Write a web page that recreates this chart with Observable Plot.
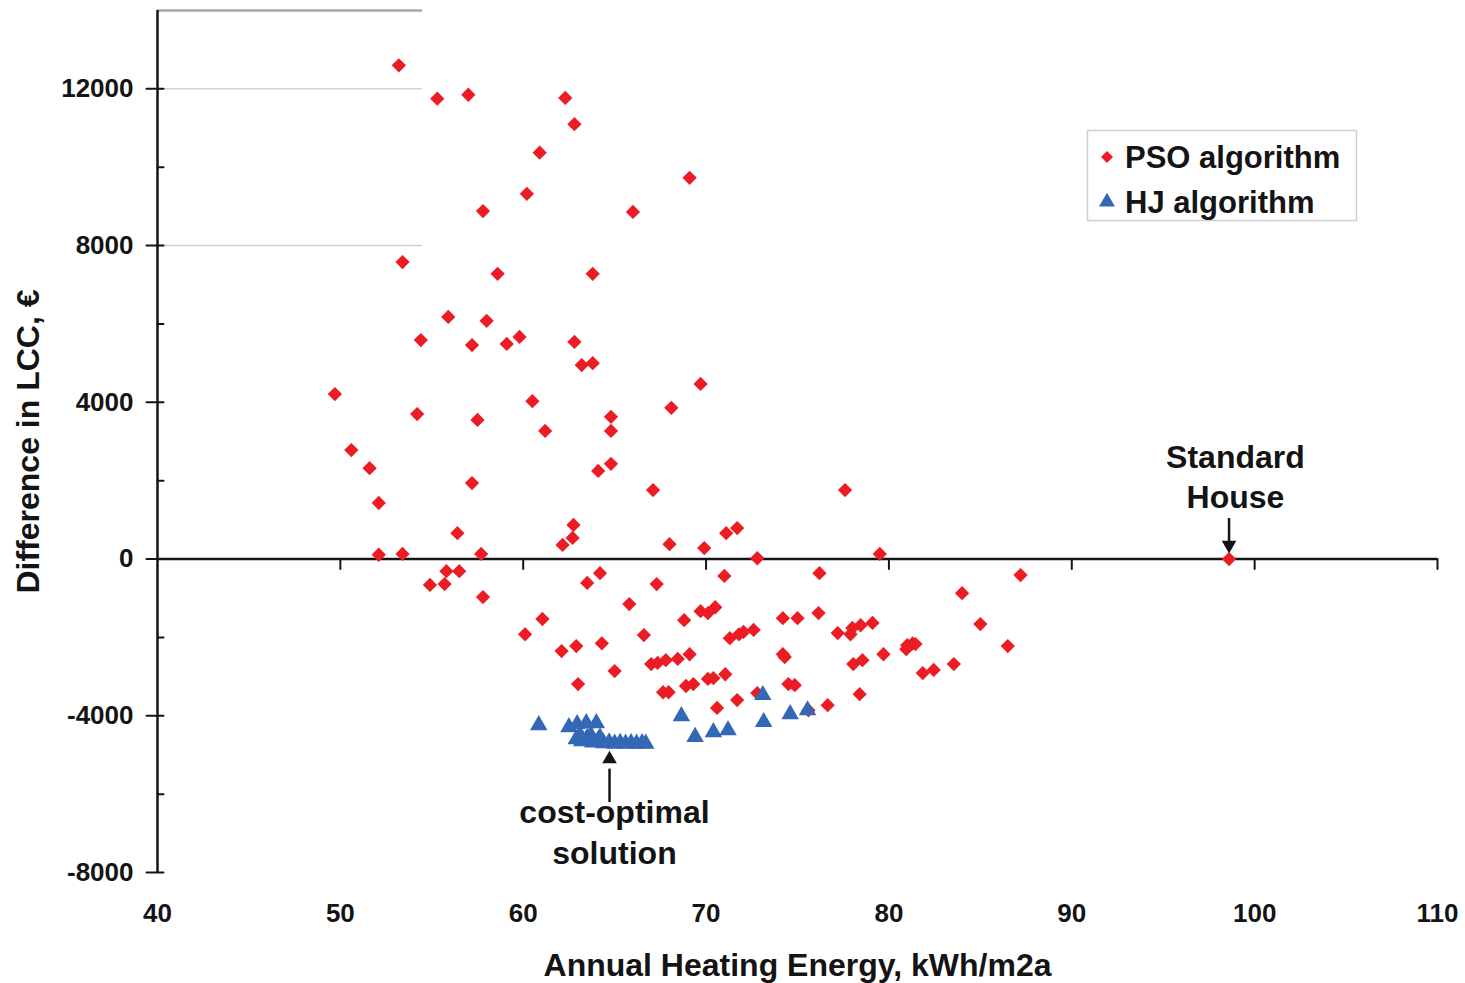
<!DOCTYPE html>
<html><head><meta charset="utf-8">
<script src="https://cdn.jsdelivr.net/npm/d3@7"></script>
<script src="https://cdn.jsdelivr.net/npm/@observablehq/plot@0.6"></script>
<style>
body{margin:0;background:#fff;}
#chart{width:1465px;height:983px;}
</style></head><body><div id="chart"></div>
<script>
// ---- data ----
const psoX = [53.2,55.3,57.0,62.3,62.8,60.9,69.1,60.2,57.8,66.0,53.4,58.6,63.8,55.9,58.0,59.8,54.4,59.1,57.2,62.8,63.2,63.8,69.7,49.7,54.2,60.5,57.5,68.1,64.8,64.8,61.2,50.6,51.6,64.8,64.1,57.2,67.1,77.6,52.1,56.4,62.75,62.7,62.15,68.0,71.1,71.7,69.9,72.8,79.5,52.1,53.4,57.7,
  55.8,56.5,54.9,55.7,57.8,64.2,63.5,71.0,67.3,76.2,87.2,84.0,65.8,60.1,61.05,66.6,69.7,70.1,70.5,68.8,74.2,75.0,76.15,85.0,62.9,64.3,62.1,71.3,71.8,72.05,72.6,77.2,77.9,78.0,78.45,79.1,81.0,81.3,81.45,80.95,86.5,74.2,74.3,65.0,69.1,67.0,67.35,67.8,68.45,78.05,78.55,79.7,81.85,82.45,83.55,63.0,67.65,67.95,68.9,69.3,70.1,70.4,71.05,72.8,74.5,74.85,78.4,70.6,71.7,76.65,75.6];
const psoY = [12600,11750,11850,11770,11100,10370,9730,9320,8880,8860,7580,7280,7280,6180,6080,5670,5590,5490,5460,5540,4950,5000,4470,4210,3700,4030,3550,3860,3630,3270,3270,2780,2320,2430,2250,1940,1760,1760,1430,660,870,540,360,380,660,790,280,20,130,110,130,130,
  -310,-310,-660,-640,-970,-360,-610,-430,-640,-360,-410,-870,-1150,-1920,-1530,-1940,-1330,-1380,-1230,-1560,-1510,-1510,-1380,-1660,-2220,-2150,-2350,-2020,-1920,-1860,-1810,-1890,-1920,-1760,-1690,-1630,-2200,-2150,-2170,-2300,-2220,-2430,-2500,-2860,-2430,-2680,-2650,-2580,-2550,-2680,-2580,-2430,-2910,-2830,-2680,-3190,-3400,-3400,-3240,-3190,-3060,-3040,-2940,-3420,-3190,-3220,-3450,-3800,-3600,-3730,-3860];
const hjX = [60.85,62.5,62.95,63.45,64.0,68.65,69.4,70.4,71.2,73.1,73.15,74.6,75.55,
  62.9,63.2,63.5,63.8,64.1,64.4,64.7,65.0,65.3,65.6,65.9,66.2,66.5,66.7,63.1,63.7,64.2];
const hjY = [-4240,-4290,-4210,-4190,-4190,-4010,-4540,-4420,-4370,-3470,-4160,-3960,-3860,
  -4600,-4650,-4560,-4680,-4620,-4700,-4680,-4710,-4690,-4710,-4700,-4710,-4700,-4710,-4480,-4500,-4550];
const houseX = [98.6];
const houseY = [0];

const xTicks = [40,50,60,70,80,90,100,110];
const yMajorTicks = [-8000,-4000,0,4000,8000,12000];
const yMinorTicks = [-6000,-2000,2000,6000,10000];
const topLine = [14000];
const gridValues = [12000, 8000];
const gridEnd = 54.5;

const labelText = ["Standard","House","cost-optimal","solution"];
const labelX = [98.95,98.95,64.99,64.99];
const labelY = [2590,1570,-6470,-7520];
const arrowX = [98.6, 64.72];
const arrowFromY = [1047, -6200];
const arrowToY = [460, -5350];
const headY = [357, -5106];
const headRot = [180, 0];

const legendLabels = ["PSO algorithm","HJ algorithm"];

// ---- tables ----
const pso = psoX.map((x,i)=>({x, y: psoY[i]}));
const hj = hjX.map((x,i)=>({x, y: hjY[i]}));
const house = houseX.map((x,i)=>({x, y: houseY[i]}));
const labels = labelText.map((t,i)=>({t, x: labelX[i], y: labelY[i]}));
const arrows = arrowX.map((x,i)=>({x, y1: arrowFromY[i], y2: arrowToY[i], hy: headY[i], rot: headRot[i]}));

const RED = "#ec1c24", BLUE = "#3467b5", INK = "#141414";
const FONT = "'Liberation Sans', Arial, Helvetica, sans-serif";
const lineShape = {draw(ctx, l){ ctx.moveTo(0,0); ctx.lineTo(0,-l); }};

const plot = Plot.plot({
  width: 1465, height: 983,
  marginLeft: 157, marginRight: 28, marginTop: 10, marginBottom: 111,
  x: {domain: [40,110]},
  y: {domain: [-8000,14000]},
  style: {fontFamily: FONT, fontWeight: "bold", color: INK, background: "white"},
  marks: [
    Plot.ruleY(topLine, {y: d=>d, x1: 40, x2: gridEnd, stroke: "#a8a8a8", strokeWidth: 2.5}),
    Plot.ruleY(gridValues, {y: d=>d, x1: 40, x2: gridEnd, stroke: "#d2d2d2", strokeWidth: 1.5}),
    Plot.ruleX([40], {stroke: INK, strokeWidth: 2.5}),
    Plot.ruleY([0], {stroke: INK, strokeWidth: 2.5}),
    Plot.vector(yMajorTicks, {x: 40, y: d=>d, length: 17, rotate: 90, anchor: "start", dx: -11, shape: lineShape, stroke: INK, strokeWidth: 2}),
    Plot.vector(yMinorTicks, {x: 40, y: d=>d, length: 6, rotate: 90, anchor: "start", shape: lineShape, stroke: INK, strokeWidth: 2}),
    Plot.vector(xTicks.filter(d=>d>40), {x: d=>d, y: 0, length: 10, rotate: 180, anchor: "start", shape: lineShape, stroke: INK, strokeWidth: 2}),
    Plot.axisY({ticks: yMajorTicks, tickSize: 0, tickPadding: 24, fontSize: 26, fontWeight: "bold", label: null, tickFormat: d=>String(d)}),
    Plot.axisX({ticks: xTicks, tickSize: 0, tickPadding: 31, fontSize: 26, fontWeight: "bold", label: null, tickFormat: d=>String(d)}),
    Plot.text(["Annual Heating Energy, kWh/m2a"], {text: d=>d, frameAnchor: "bottom", lineAnchor: "middle", textAnchor: "middle", dy: 93, fontSize: 32, fontWeight: "bold", fill: INK}),
    Plot.text(["Difference in LCC, €"], {text: d=>d, frameAnchor: "left", textAnchor: "middle", lineAnchor: "middle", rotate: -90, dx: -129, fontSize: 32, fontWeight: "bold", fill: INK}),
    Plot.dot(pso, {x: "x", y: "y", symbol: "square", rotate: 45, r: 5.7, fill: RED}),
    Plot.dot(house, {x: "x", y: "y", symbol: "square", rotate: 45, r: 5.7, fill: RED}),
    Plot.dot(hj, {x: "x", y: "y", symbol: "triangle", r: 6.5, fill: BLUE}),
    Plot.link(arrows, {x1: "x", x2: "x", y1: "y1", y2: "y2", stroke: INK, strokeWidth: 2.5}),
    Plot.dot(arrows, {x: "x", y: "hy", symbol: "triangle", r: 5.4, rotate: "rot", fill: INK}),
    Plot.text(labels, {x: "x", y: "y", text: "t", fontSize: 32, fontWeight: "bold", fill: INK})
  ]
});

// legend drawn into the svg
const svg = d3.select(plot);
const lg = svg.append("g").attr("transform", "translate(1087,130)");
lg.append("rect").attr("x",0.5).attr("y",0.5).attr("width",269).attr("height",90)
  .attr("fill","white").attr("stroke","#cfcfcf").attr("stroke-width",1.5);
const syms = [
  {sym: d3.symbolSquare, size: 72, rot: 45, fill: RED, cy: 27},
  {sym: d3.symbolTriangle, size: 110, rot: 0, fill: BLUE, cy: 72}
];
syms.forEach((s,i)=>{
  lg.append("path").attr("d", d3.symbol(s.sym, s.size)())
    .attr("transform", `translate(20,${s.cy}) rotate(${s.rot})`).attr("fill", s.fill);
  lg.append("text").attr("x",38).attr("y", s.cy + 11).text(legendLabels[i])
    .attr("text-anchor","start")
    .attr("font-size",31).attr("font-weight","bold").attr("font-family",FONT).attr("fill",INK);
});

document.getElementById("chart").appendChild(plot);
</script></body></html>
